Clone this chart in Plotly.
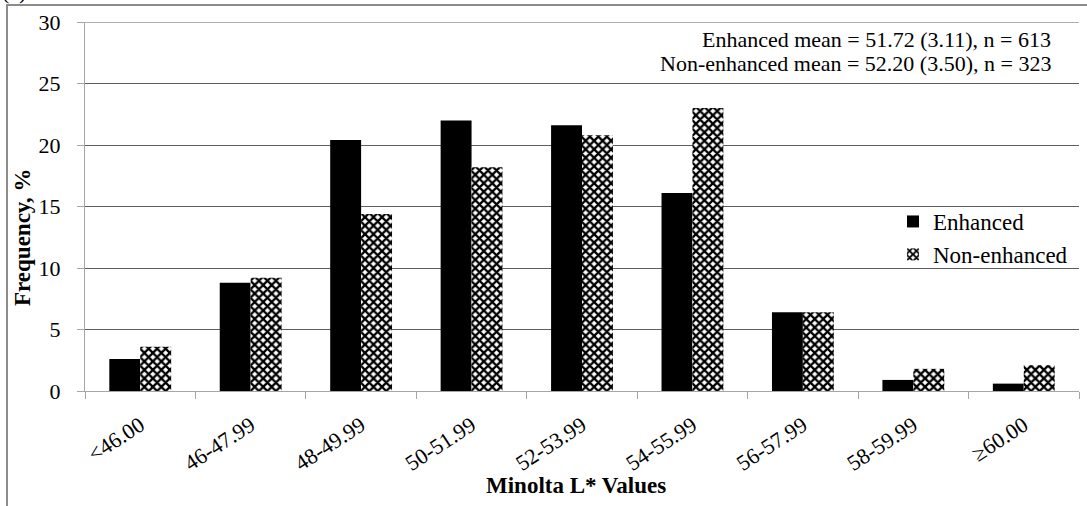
import plotly.graph_objects as go

categories = ["<46.00", "46-47.99", "48-49.99", "50-51.99", "52-53.99",
              "54-55.99", "56-57.99", "58-59.99", "≥60.00"]
enhanced = [2.6, 8.8, 20.4, 22.0, 21.6, 16.1, 6.4, 0.9, 0.6]
non_enhanced = [3.6, 9.2, 14.4, 18.2, 20.8, 23.0, 6.4, 1.8, 2.1]
stats_lines = ["Enhanced mean = 51.72 (3.11), n = 613",
               "Non-enhanced mean = 52.20 (3.50), n = 323"]

W, H = 1087, 506
L, R, T, B = 85, 8, 22, 115
pw, ph = W - L - R, H - T - B


def px(x):
    return (x - L) / pw


def py(y):
    return (H - B - y) / ph


FONT = "Liberation Serif, Times New Roman, serif"

fig = go.Figure()
fig.add_trace(go.Bar(
    x=categories, y=enhanced, name="Enhanced",
    marker=dict(color="black", line=dict(width=0)),
))
fig.add_trace(go.Bar(
    x=categories, y=non_enhanced, name="Non-enhanced",
    marker=dict(color="white", line=dict(width=0),
                pattern=dict(shape="x", size=6, solidity=0.62,
                             fgcolor="black", bgcolor="white", fillmode="replace")),
))

fig.update_layout(
    width=W, height=H,
    margin=dict(l=L, r=R, t=T, b=B),
    paper_bgcolor="white", plot_bgcolor="white",
    barmode="group", bargap=0.44, bargroupgap=0,
    font=dict(family=FONT, size=23, color="black"),
    showlegend=True,
    legend=dict(x=px(893), y=py(200), xanchor="left", yanchor="top",
                font=dict(family=FONT, size=23, color="black"),
                bgcolor="rgba(0,0,0,0)", itemwidth=30, tracegroupgap=0),
    xaxis=dict(
        type="category", showline=True, linecolor="#a6a6a6", linewidth=1,
        ticks="outside", tickson="boundaries", ticklen=7, tickcolor="#a6a6a6",
        tickangle=-33, showgrid=False, ticklabelstandoff=12,
        tickfont=dict(family=FONT, size=22, color="black"),
    ),
    yaxis=dict(
        range=[0, 30], dtick=5, tick0=0, showgrid=True, gridcolor="#5e5e5e",
        gridwidth=1, zeroline=False, showline=True, linecolor="#a6a6a6",
        ticks="outside", ticklen=7, tickcolor="#a6a6a6", ticklabelstandoff=12,
        tickfont=dict(family=FONT, size=22, color="black"),
    ),
)

# plot top gridline at 30
fig.add_shape(type="line", xref="paper", yref="y", x0=0, x1=1, y0=30, y1=30,
              line=dict(color="#5e5e5e", width=1))

# outer frame
fig.add_shape(type="rect", xref="paper", yref="paper",
              x0=px(7), x1=px(1100), y0=py(5), y1=py(530),
              line=dict(color="#8c8c8c", width=2), fillcolor="rgba(0,0,0,0)",
              layer="below")

# stats text
for i, t in enumerate(stats_lines):
    fig.add_annotation(text=t, xref="paper", yref="paper",
                       x=px(1053), y=py(39 + 24 * i), xanchor="right", yanchor="middle",
                       showarrow=False, font=dict(family=FONT, size=22, color="black"))

# axis titles
fig.add_annotation(text="<b>Minolta L* Values</b>", xref="paper", yref="paper",
                   x=px(576), y=py(485), xanchor="center", yanchor="middle",
                   showarrow=False, font=dict(family=FONT, size=23, color="black"))
fig.add_annotation(text="<b>Frequency, %</b>", xref="paper", yref="paper",
                   x=px(23), y=py(237), xanchor="center", yanchor="middle",
                   textangle=-90, showarrow=False,
                   font=dict(family=FONT, size=23, color="black"))

# cut-off caption at top
fig.add_annotation(text="(a)", xref="paper", yref="paper",
                   x=px(0), y=py(6), xanchor="left", yanchor="bottom",
                   showarrow=False, font=dict(family=FONT, size=22, color="black"))

fig.write_html("out.html", config={"displayModeBar": False},
               post_script="document.body.style.margin='0';document.body.style.padding='0';")
